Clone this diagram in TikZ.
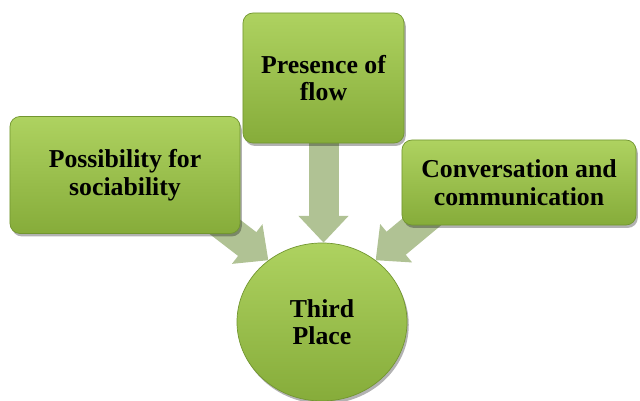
\documentclass[tikz,border=0pt]{standalone}
\usepackage{fontspec}
\setmainfont{Liberation Serif}
\usetikzlibrary{shapes.geometric,shadows,arrows.meta,calc}

\definecolor{boxtop}{RGB}{174,210,96}
\definecolor{boxbot}{RGB}{134,172,58}
\definecolor{boxedge}{RGB}{114,150,48}
\definecolor{arrowgreen}{RGB}{176,194,148}
\definecolor{arrowlight}{RGB}{208,220,190}

\pgfdeclarelayer{back}
\pgfdeclarelayer{mid}
\pgfsetlayers{back,mid,main}

\tikzset{
  greenbox/.style={rectangle, rounded corners=0.3cm, draw=boxedge, line width=0.6pt,
    top color=boxtop, bottom color=boxbot, align=center, inner sep=2pt,
    drop shadow={shadow xshift=1.5pt, shadow yshift=-2.5pt, opacity=0.3, fill=black},
    font=\bfseries\fontsize{22}{23.5}\selectfont},
  greenround/.style={ellipse, draw=boxedge, line width=0.6pt, inner sep=0pt,
    top color=boxtop, bottom color=boxbot, align=center,
    drop shadow={shadow xshift=1.5pt, shadow yshift=-2.5pt, opacity=0.3, fill=black},
    minimum width=5.1cm, minimum height=4.74cm,
    font=\bfseries\fontsize{22}{23.5}\selectfont},
  blockarrow/.style={draw=arrowgreen, line width=0.9cm,
    -{Triangle[width=1.45cm,length=0.8cm]}}
}

\begin{document}
\begin{tikzpicture}[x=0.03cm,y=-0.03cm]
  \useasboundingbox (0,0) rectangle (640,401);

  % centre circle
  \begin{pgfonlayer}{back}
    \node[greenround] (third) at (322,322) {Third\\Place};
  \end{pgfonlayer}

  % the three boxes
  \node[greenbox, minimum width=6.9cm, minimum height=3.51cm] (social) at (125,175)
    {Possibility for\\sociability};
  \node[greenbox, minimum width=4.83cm, minimum height=3.9cm] (flow) at (323.5,78)
    {Presence of\\flow};
  \node[greenbox, minimum width=7.02cm, minimum height=2.55cm] (talk) at (519,182.5)
    {Conversation and\\communication};

  % block arrows into the circle
  \begin{pgfonlayer}{mid}
    \draw[blockarrow] (flow.south) -- (flow.south |- third.north);
    \draw[blockarrow] ($(social.south east)+(-35,-22)$) -- (third.131);
    \draw[blockarrow] ($(talk.south west)+(40,-20)$) -- (third.49);
  \end{pgfonlayer}
\end{tikzpicture}
\end{document}
